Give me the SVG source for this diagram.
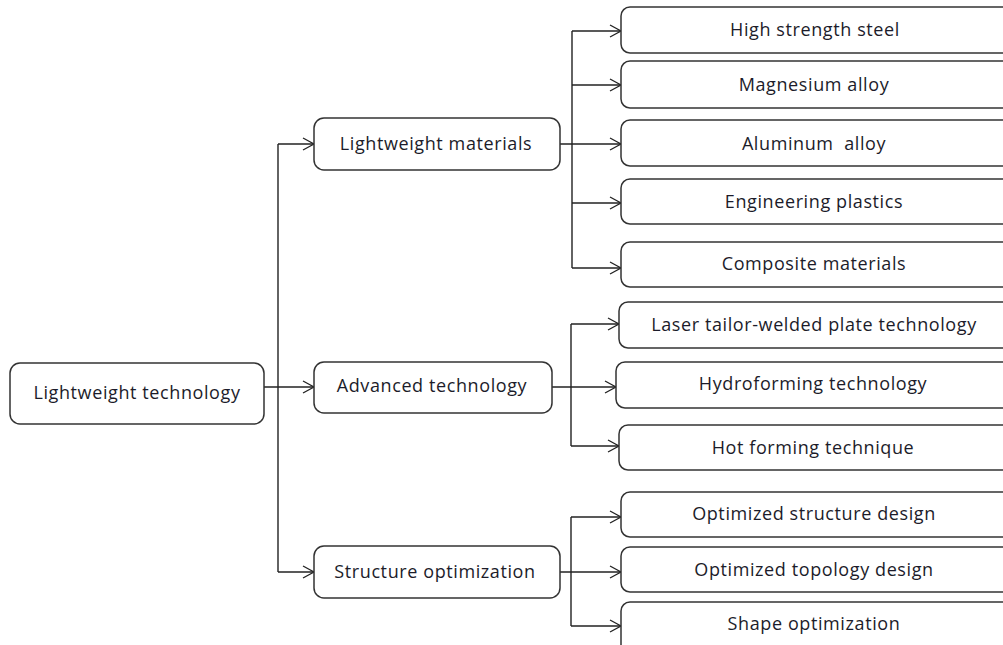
<svg xmlns="http://www.w3.org/2000/svg" width="1003" height="645" viewBox="0 0 1003 645">
<defs>
<marker id="arr" markerWidth="14" markerHeight="14" refX="12" refY="7" orient="auto" markerUnits="userSpaceOnUse">
<path d="M1,1 L12,7 L1,13" fill="none" stroke="#222" stroke-width="1.3"/>
</marker>
<style>
.box{fill:#fff;stroke:#333;stroke-width:1.5}
.t{font-family:"Open Sans","Noto Sans",sans-serif;font-size:18px;letter-spacing:0.6px;fill:#1c1c2a;text-anchor:middle;dominant-baseline:central;white-space:pre}
.c{fill:none;stroke:#222;stroke-width:1.4}
</style>
</defs>
<rect width="1003" height="645" fill="#fff"/>
<g id="connectors">
<path class="c" d="M264,387 L314,387" marker-end="url(#arr)"/>
<path class="c" d="M278,144 L278,572"/>
<path class="c" d="M278,144 L314,144" marker-end="url(#arr)"/>
<path class="c" d="M278,572 L314,572" marker-end="url(#arr)"/>
<path class="c" d="M560,144 L621,144" marker-end="url(#arr)"/>
<path class="c" d="M572,31 L572,268"/>
<path class="c" d="M572,31 L621,31" marker-end="url(#arr)"/>
<path class="c" d="M572,85 L621,85" marker-end="url(#arr)"/>
<path class="c" d="M572,203 L621,203" marker-end="url(#arr)"/>
<path class="c" d="M572,268 L621,268" marker-end="url(#arr)"/>
<path class="c" d="M552,387 L616,387" marker-end="url(#arr)"/>
<path class="c" d="M571,324 L571,446"/>
<path class="c" d="M571,324 L619,324" marker-end="url(#arr)"/>
<path class="c" d="M571,446 L619,446" marker-end="url(#arr)"/>
<path class="c" d="M560,572 L621,572" marker-end="url(#arr)"/>
<path class="c" d="M571,517 L571,626"/>
<path class="c" d="M571,517 L621,517" marker-end="url(#arr)"/>
<path class="c" d="M571,626 L621,626" marker-end="url(#arr)"/>
</g>
<g id="n-root"><rect class="box" x="10" y="363" width="254" height="61" rx="10"/><text class="t" x="137" y="392">Lightweight technology</text></g>
<g id="n-materials"><rect class="box" x="314" y="118" width="246" height="52" rx="10"/><text class="t" x="436" y="143">Lightweight materials</text></g>
<g id="n-advanced"><rect class="box" x="314" y="362" width="238" height="51" rx="10"/><text class="t" x="432" y="385">Advanced technology</text></g>
<g id="n-structure"><rect class="box" x="314" y="546" width="246" height="52" rx="10"/><text class="t" x="435" y="571">Structure optimization</text></g>
<g id="n-steel"><rect class="box" x="621" y="7" width="400" height="46" rx="9"/><text class="t" x="815" y="29">High strength steel</text></g>
<g id="n-magnesium"><rect class="box" x="621" y="61" width="400" height="47" rx="9"/><text class="t" x="814" y="84">Magnesium alloy</text></g>
<g id="n-aluminum"><rect class="box" x="621" y="120" width="400" height="46" rx="9"/><text class="t" x="814" y="143">Aluminum  alloy</text></g>
<g id="n-plastics"><rect class="box" x="621" y="179" width="400" height="45" rx="9"/><text class="t" x="814" y="201">Engineering plastics</text></g>
<g id="n-composite"><rect class="box" x="621" y="242" width="400" height="45" rx="9"/><text class="t" x="814" y="263">Composite materials</text></g>
<g id="n-laser"><rect class="box" x="619" y="302" width="402" height="46" rx="9"/><text class="t" x="814" y="324">Laser tailor-welded plate technology</text></g>
<g id="n-hydro"><rect class="box" x="616" y="362" width="405" height="46" rx="9"/><text class="t" x="813" y="383">Hydroforming technology</text></g>
<g id="n-hot"><rect class="box" x="619" y="425" width="402" height="45" rx="9"/><text class="t" x="813" y="447">Hot forming technique</text></g>
<g id="n-optstruct"><rect class="box" x="621" y="492" width="400" height="45" rx="9"/><text class="t" x="814" y="513">Optimized structure design</text></g>
<g id="n-topology"><rect class="box" x="621" y="547" width="400" height="45" rx="9"/><text class="t" x="814" y="569">Optimized topology design</text></g>
<g id="n-shape"><rect class="box" x="621" y="602" width="400" height="60" rx="9"/><text class="t" x="814" y="623">Shape optimization</text></g>
</svg>
